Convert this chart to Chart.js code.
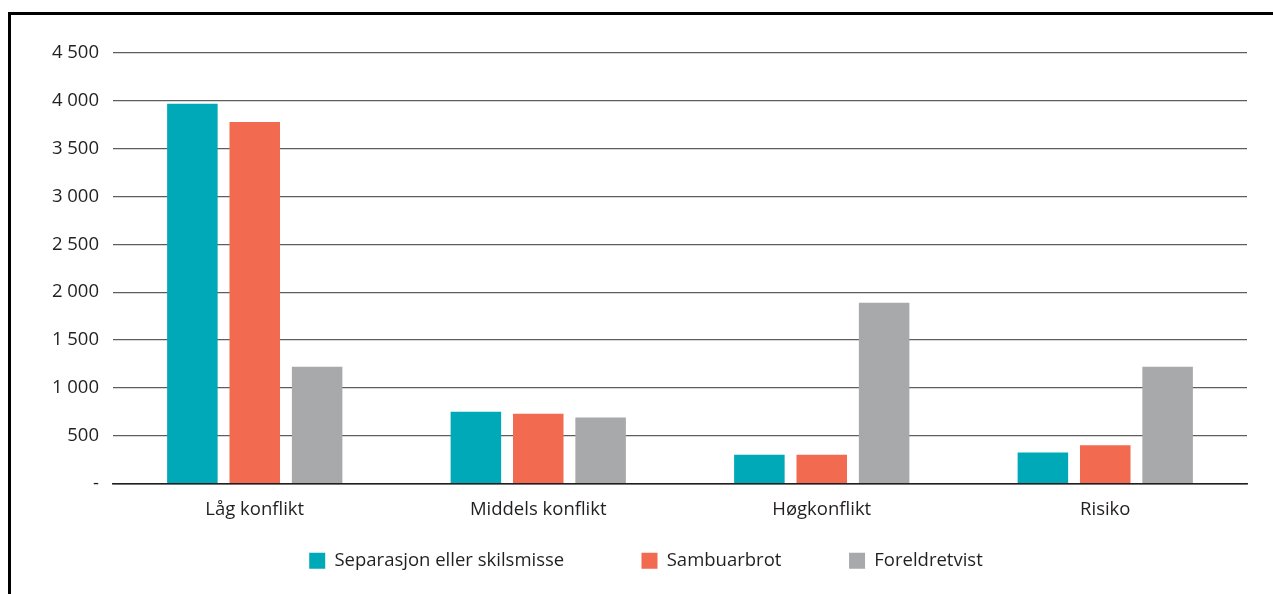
<!DOCTYPE html>
<html>
<head>
<meta charset="utf-8">
<script src="https://cdn.jsdelivr.net/npm/chart.js@4"></script>
<style>
  html, body { margin: 0; padding: 0; background: #fff; }
  #wrap { position: relative; width: 1273px; height: 594px; }
  #frame { position: absolute; left: 8px; top: 12px; right: 0; bottom: 0;
           border-left: 3px solid #000; border-top: 3px solid #000; pointer-events: none; }
</style>
</head>
<body>
<div id="wrap">
  <canvas id="chart" width="1273" height="594"></canvas>
  <div id="frame"></div>
</div>
<script>
const categories = ['Låg konflikt', 'Middels konflikt', 'Høgkonflikt', 'Risiko'];
const seriesNames = ['Separasjon eller skilsmisse', 'Sambuarbrot', 'Foreldretvist'];
const separasjon = [3970, 750, 300, 325];
const sambuarbrot = [3780, 730, 300, 400];
const foreldretvist = [1220, 690, 1890, 1220];
const seriesColors = ['#00a9b8', '#f26a50', '#a7a9aa'];
const yTicks = [0, 500, 1000, 1500, 2000, 2500, 3000, 3500, 4000, 4500];

const textColor = '#231f20';
const font = { family: '"Open Sans", sans-serif', size: 18.5 };

// "4 500" style labels, zero shown as a dash
function fmt(v) {
    if (v === 0) return '-';
    return String(v).replace(/\B(?=(\d{3})+(?!\d))/g, ' ');
}

// wider gaps between legend items without the extra vertical padding
const legendGaps = [14, 12, 0];

new Chart(document.getElementById('chart').getContext('2d'), {
    type: 'bar',
    data: {
        labels: categories,
        datasets: [separasjon, sambuarbrot, foreldretvist].map((d, i) => ({
            label: seriesNames[i],
            data: d,
            backgroundColor: seriesColors[i],
            borderWidth: 0,
            categoryPercentage: 0.66,
            barPercentage: 0.81
        }))
    },
    options: {
        responsive: false,
        animation: false,
        layout: { padding: { top: 53, right: 26, bottom: 14, left: 45 } },
        plugins: {
            tooltip: { enabled: false },
            legend: {
                position: 'bottom',
                labels: {
                    color: textColor,
                    font: font,
                    boxWidth: 16,
                    boxHeight: 16,
                    padding: 10,
                    generateLabels: chart => {
                        const items = Chart.defaults.plugins.legend.labels.generateLabels(chart);
                        items.forEach((it, i) => { it.text = it.text + ' '.repeat(legendGaps[i]); });
                        return items;
                    }
                }
            }
        },
        scales: {
            x: {
                grid: { display: false },
                border: { color: '#231f20', width: 1.5 },
                ticks: { color: textColor, font: font, padding: 7 },
                afterFit: scale => { scale.height = 58; }
            },
            y: {
                min: 0,
                max: 4500,
                afterBuildTicks: scale => { scale.ticks = yTicks.map(v => ({ value: v })); },
                afterFit: scale => { scale.width = 68; },
                grid: {
                    color: ctx => ctx.tick && ctx.tick.value === 0 ? '#231f20' : '#5e5e5e',
                    lineWidth: 1.2,
                    drawTicks: false
                },
                border: { display: false },
                ticks: {
                    color: textColor,
                    font: font,
                    padding: 14,
                    callback: v => fmt(v)
                }
            }
        }
    }
});
</script>
</body>
</html>
